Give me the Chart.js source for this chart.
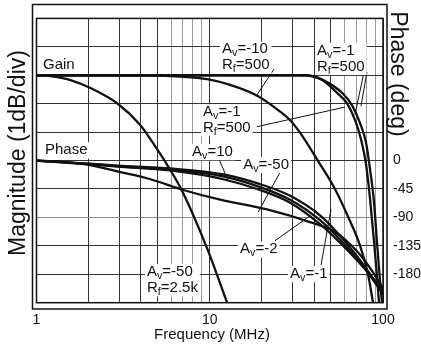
<!DOCTYPE html>
<html>
<head>
<meta charset="utf-8">
<script src="https://cdn.jsdelivr.net/npm/chart.js@4.4.0/dist/chart.umd.min.js"></script>
<style>
  html, body { margin: 0; padding: 0; background: #fff; }
  #wrap { width: 421px; height: 349px; position: relative; }
</style>
</head>
<body>
<div id="wrap"><canvas id="bodeChart"></canvas></div>
<script>
// Values. Frequency in MHz, gain in dB (1 dB/div), phase in degrees.

// gain, Av=-50 Rf=2.5k
const freqGainAv50 = [1, 1.2, 1.57, 2.05, 2.97, 3.97, 4.36, 5.77, 6.94, 9.67, 12.6];
const magGainAv50  = [0, -0.03, -0.17, -0.45, -1.02, -1.75, -2.09, -3.22, -4.08, -6.1, -8.0];

// gain, Av=-10 Rf=500
const freqGainAv10 = [1, 4.54, 6.76, 9.67, 13.1, 18.8, 24.5, 29.1, 33.2, 42.2, 52.9, 62.8, 73.7, 81.9, 87.6];
const magGainAv10  = [0, -0.01, -0.05, -0.14, -0.34, -0.72, -1.2, -1.58, -2.02, -3.02, -4.01, -4.97, -5.99, -6.99, -8.0];

// gain, Av=-1 Rf=500 (two curves)
const freqGainAv1a = [1, 33.2, 43.4, 54.3, 62, 69, 74.7, 79.8, 84.1, 88.8, 92.3, 94.8];
const magGainAv1a  = [0, 0, -0.12, -0.62, -0.99, -1.58, -2.26, -3.12, -4.32, -5.86, -7.06, -8.0];
const freqGainAv1b = [1, 35.5, 45.1, 58.8, 66.3, 73.7, 79.8, 84.1, 88.8, 92.3, 96.1, 98.7];
const magGainAv1b  = [0, 0, -0.17, -0.65, -1.06, -1.68, -2.37, -3.29, -4.49, -5.86, -7.23, -8.0];

// phase curves
const freqPhase     = [1, 1.97, 2.93, 5.92, 11.96, 19.5, 29.1, 43.3, 56.5, 70.8, 84.1, 100];
const phaseAvm1     = [0, -4.9, -8, -12.6, -21.9, -37.3, -55.8, -86.7, -119, -151.5, -179.3, -210];
const phaseAvm2     = [0, -4.9, -8.8, -14.2, -25, -42, -62, -94.4, -125, -156, -182, -211.7];
const phaseAv10     = [0, -5.7, -9.6, -15.7, -29.6, -46.6, -66.6, -100.6, -129.9, -157.7, -180.8, -205.5];
const freqPhaseAv50 = [1, 1.375, 1.97, 2.93, 4.54, 7.04, 11.5, 21.4, 37.9, 52.9, 70.8, 86.4, 100];
const phaseAvm50    = [0, -1.9, -6.5, -17.3, -29.6, -46.6, -62, -77.4, -97.4, -112.9, -143.7, -174.6, -202.4];

// axes
const xGridValues = [1, 2, 3, 4, 5, 6, 7, 8, 9, 10, 20, 30, 40, 50, 60, 70, 80, 90, 100];
const xTickLabels = [1, 10, 100];
const phaseTicks = [0, -45, -90, -135, -180];

// in-plot notes, placed in (MHz, dB); {x} marks a subscript
const noteText = [['Gain'], ['Phase'], ['A{v}=-10', 'R{f}=500'], ['A{v}=-1', 'R{f}=500'],
  ['A{v}=-1', 'R{f}=500'], ['A{v}=10'], ['A{v}=-50'], ['A{v}=-2'], ['A{v}=-1'], ['A{v}=-50', 'R{f}=2.5k']];
const noteFreq = [1.09, 1.12, 11.77, 41.6, 9.14, 7.9, 15.6, 14.95, 29.05, 4.34];
const noteMag  = [0.22, -2.77, 0.77, 0.73, -1.43, -2.83, -3.28, -6.26, -7.12, -7.05];

// leader lines from notes to curves, [MHz, dB] pairs
const leaderFrom = [[23.5, 0.22], [77.7, 0.11], [80.8, 0.11], [18.7, -1.81], [11.16, -2.87], [25.8, -3.35], [23.8, -5.82], [43.9, -6.67]];
const leaderTo   = [[18.5, -0.74], [68.9, -1.39], [74.6, -1.09], [60.4, -1.12], [12.75, -3.69], [19.0, -4.82], [38.4, -4.92], [50.1, -4.72]];

const FONT = '"Liberation Sans", Arial, sans-serif';

function zip(xs, ys) {
    return xs.map((x, i) => ({ x: x, y: ys[i] }));
}

function curve(label, xs, ys, axis) {
    return {
        label: label,
        data: zip(xs, ys),
        yAxisID: axis,
        borderColor: '#111',
        borderWidth: 2.3,
        pointRadius: 0,
        fill: false,
        cubicInterpolationMode: 'monotone'
    };
}

// split 'A{v}=-10' into [text, isSub] pieces
function parts(str) {
    const out = [];
    str.split(/(\{[^}]*\})/).forEach(p => {
        if (!p) return;
        if (p[0] === '{') out.push([p.slice(1, -1), true]);
        else out.push([p, false]);
    });
    return out;
}

function richWidth(ctx, str, size) {
    let w = 0;
    parts(str).forEach(([t, sub]) => {
        ctx.font = (sub ? size * 0.72 : size) + 'px ' + FONT;
        w += ctx.measureText(t).width;
    });
    return w;
}

function drawRich(ctx, str, x, y, size) {
    parts(str).forEach(([t, sub]) => {
        ctx.font = (sub ? size * 0.72 : size) + 'px ' + FONT;
        ctx.fillText(t, x, sub ? y + size * 0.2 : y);
        x += ctx.measureText(t).width;
    });
}

const notesPlugin = {
    id: 'notes',
    beforeDatasetsDraw(chart) {
        const ctx = chart.ctx;
        const xs = chart.scales.x, ys = chart.scales.yMag;
        const size = 15, lineGap = 16;
        ctx.save();
        // leaders
        ctx.strokeStyle = '#111';
        ctx.lineWidth = 1;
        leaderFrom.forEach((p, i) => {
            const q = leaderTo[i];
            ctx.beginPath();
            ctx.moveTo(xs.getPixelForValue(p[0]), ys.getPixelForValue(p[1]));
            ctx.lineTo(xs.getPixelForValue(q[0]), ys.getPixelForValue(q[1]));
            ctx.stroke();
        });
        // labels with white boxes
        ctx.textBaseline = 'alphabetic';
        ctx.textAlign = 'left';
        noteText.forEach((lines, i) => {
            const x = xs.getPixelForValue(noteFreq[i]);
            const y = ys.getPixelForValue(noteMag[i]);
            let w = 0;
            lines.forEach(l => { w = Math.max(w, richWidth(ctx, l, size)); });
            ctx.fillStyle = '#fff';
            ctx.fillRect(x - 2, y - size * 0.78, w + 4, size * 0.95 + (lines.length - 1) * lineGap + 2);
            ctx.fillStyle = '#111';
            lines.forEach((l, k) => drawRich(ctx, l, x, y + k * lineGap, size));
        });
        ctx.restore();
    },
    afterDraw(chart) {
        const ctx = chart.ctx;
        const a = chart.chartArea;
        ctx.save();
        ctx.strokeStyle = '#111';
        ctx.lineWidth = 1.5;
        ctx.strokeRect(a.left, a.top, a.right - a.left, a.bottom - a.top);
        ctx.strokeRect(32.5, 4.5, 354.5, 304.5);

        ctx.fillStyle = '#111';
        ctx.textAlign = 'center';
        ctx.textBaseline = 'alphabetic';
        ctx.font = '23px ' + FONT;
        ctx.save();
        ctx.translate(25, 153);
        ctx.rotate(-Math.PI / 2);
        ctx.fillText('Magnitude (1dB/div)', 0, 0);
        ctx.restore();
        ctx.save();
        ctx.translate(391, 74);
        ctx.rotate(Math.PI / 2);
        ctx.fillText('Phase (deg)', 0, 0);
        ctx.restore();

        ctx.font = '15px ' + FONT;
        ctx.fillText('Frequency (MHz)', 212, 339);
        ctx.restore();
    }
};

const ctx = document.getElementById('bodeChart').getContext('2d');
new Chart(ctx, {
    type: 'line',
    data: {
        datasets: [
            curve('Gain Av=-50 Rf=2.5k', freqGainAv50, magGainAv50, 'yMag'),
            curve('Gain Av=-10 Rf=500', freqGainAv10, magGainAv10, 'yMag'),
            curve('Gain Av=-1 Rf=500 a', freqGainAv1a, magGainAv1a, 'yMag'),
            curve('Gain Av=-1 Rf=500 b', freqGainAv1b, magGainAv1b, 'yMag'),
            curve('Phase Av=-1', freqPhase, phaseAvm1, 'yPhase'),
            curve('Phase Av=-2', freqPhase, phaseAvm2, 'yPhase'),
            curve('Phase Av=10', freqPhase, phaseAv10, 'yPhase'),
            curve('Phase Av=-50', freqPhaseAv50, phaseAvm50, 'yPhase')
        ]
    },
    options: {
        responsive: true,
        maintainAspectRatio: false,
        animation: false,
        layout: { padding: { top: 11, left: 0, right: 0, bottom: 0 } },
        plugins: {
            legend: { display: false },
            tooltip: { enabled: false }
        },
        scales: {
            x: {
                type: 'logarithmic',
                min: 1,
                max: 100,
                afterBuildTicks: scale => { scale.ticks = xGridValues.map(v => ({ value: v })); },
                afterFit: scale => { scale.height = 46.3; },
                border: { display: false },
                grid: {
                    drawTicks: false,
                    lineWidth: 1,
                    color: c => ([6, 7, 8, 9, 60, 70, 80, 90].includes(c.tick.value) ? '#9a9a9a' : '#333')
                },
                ticks: {
                    autoSkip: false,
                    maxRotation: 0,
                    padding: 9,
                    color: '#111',
                    font: { family: FONT, size: 14 },
                    callback: v => (xTickLabels.includes(v) ? String(v) : '')
                }
            },
            yMag: {
                axis: 'y',
                position: 'left',
                min: -8,
                max: 2,
                afterFit: scale => { scale.width = 36.5; },
                border: { display: false },
                grid: {
                    drawTicks: false,
                    lineWidth: 1,
                    color: c => (c.tick.value === -5 ? '#8a8a8a' : '#333')
                },
                ticks: { stepSize: 1, display: false }
            },
            yPhase: {
                axis: 'y',
                position: 'right',
                min: -225,
                max: 225,
                afterBuildTicks: scale => { scale.ticks = phaseTicks.map(v => ({ value: v })); },
                afterFit: scale => { scale.width = 38; },
                border: { display: false },
                grid: { display: false, drawTicks: false },
                ticks: {
                    padding: 10,
                    color: '#111',
                    font: { family: FONT, size: 14 }
                }
            }
        }
    },
    plugins: [notesPlugin]
});
</script>
</body>
</html>
